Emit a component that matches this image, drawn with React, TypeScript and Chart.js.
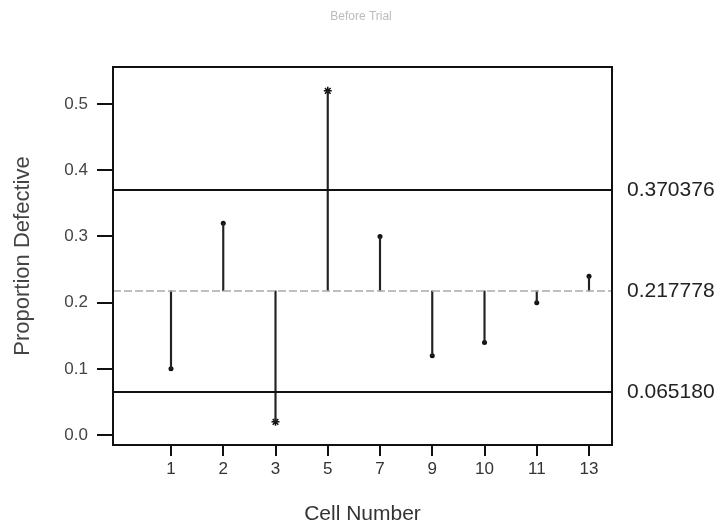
import React, { useEffect, useRef } from "react";
import { Chart, registerables } from "chart.js";

Chart.register(...registerables);

const cellLabels = ["1", "2", "3", "5", "7", "9", "10", "11", "13"];
const proportions = [0.10, 0.32, 0.02, 0.52, 0.30, 0.12, 0.14, 0.20, 0.24];
const outOfControl = [false, false, true, true, false, false, false, false, false];
const centerLine = 0.217778;
const upperLimit = 0.370376;
const lowerLimit = 0.06518;
const yTicks = [0, 0.1, 0.2, 0.3, 0.4, 0.5];
const limitValues = [upperLimit, centerLine, lowerLimit];
const limitLabels = ["0.370376", "0.217778", "0.065180"];

const X_MIN = -1.11;
const X_MAX = 8.44;
const Y_MIN = -0.015;
const Y_MAX = 0.556;

const framePlugin = {
  id: "frame",
  afterDatasetsDraw(chart: any) {
    const { ctx, chartArea } = chart;
    ctx.save();
    ctx.strokeStyle = "#111";
    ctx.lineWidth = 2;
    ctx.strokeRect(chartArea.left, chartArea.top, chartArea.right - chartArea.left, chartArea.bottom - chartArea.top);
    ctx.restore();
  },
};

export default function App() {
  const ref = useRef<HTMLCanvasElement>(null);
  useEffect(() => {
    document.body.style.margin = "0";
    const stems = proportions.map((v, i) => ({ x: i, y: [centerLine, v] }));
    const points = proportions.map((v, i) => ({ x: i, y: v }));
    const hLine = (v: number) => [
      { x: X_MIN, y: v },
      { x: X_MAX, y: v },
    ];
    const font = "'Liberation Sans', Arial, sans-serif";
    const chart = new Chart(ref.current!, {
      type: "bar",
      data: {
        datasets: [
          {
            type: "line",
            data: hLine(upperLimit),
            borderColor: "#111",
            borderWidth: 2,
            pointRadius: 0,
            xAxisID: "x",
            yAxisID: "y",
          } as any,
          {
            type: "line",
            data: hLine(centerLine),
            borderColor: "#aaa",
            borderWidth: 1.5,
            borderDash: [8, 3],
            pointRadius: 0,
            xAxisID: "x",
            yAxisID: "y",
          } as any,
          {
            type: "line",
            data: hLine(lowerLimit),
            borderColor: "#111",
            borderWidth: 2,
            pointRadius: 0,
            xAxisID: "x",
            yAxisID: "y",
          } as any,
          {
            type: "bar",
            data: stems,
            backgroundColor: "#222",
            borderWidth: 0,
            barThickness: 1.5,
            xAxisID: "x",
            yAxisID: "y",
          } as any,
          {
            type: "line",
            data: points,
            showLine: false,
            pointStyle: outOfControl.map((o) => (o ? "star" : "circle")),
            pointRadius: outOfControl.map((o) => (o ? 4 : 2.5)),
            pointBorderWidth: outOfControl.map((o) => (o ? 1.5 : 0)),
            pointBackgroundColor: "#111",
            pointBorderColor: "#111",
            xAxisID: "x",
            yAxisID: "y",
          } as any,
        ],
      },
      options: {
        responsive: false,
        animation: false,
        layout: { padding: 0 },
        plugins: {
          legend: { display: false },
          tooltip: { enabled: false },
          title: {
            display: true,
            text: "Before Trial",
            color: "#bbb",
            font: { family: font, size: 12, weight: "normal" },
            padding: { top: 9, bottom: 43.6 },
          },
        },
        scales: {
          x: {
            type: "linear",
            position: "bottom",
            min: X_MIN,
            max: X_MAX,
            offset: false,
            afterBuildTicks: (s: any) => {
              s.ticks = cellLabels.map((_, i) => ({ value: i }));
            },
            afterFit: (s: any) => {
              s.height = 84;
            },
            ticks: {
              callback: (v: any) => cellLabels[v as number] ?? "",
              color: "#333",
              font: { family: font, size: 17 },
              padding: 3,
              maxRotation: 0,
              autoSkip: false,
            },
            grid: {
              offset: false,
              drawOnChartArea: false,
              tickLength: 11,
              color: "#111",
              lineWidth: 2,
            },
            border: { display: false },
            title: {
              display: true,
              text: "Cell Number",
              color: "#333",
              font: { family: font, size: 21 },
              padding: { top: 0, bottom: 2 },
            },
          },
          y: {
            type: "linear",
            position: "left",
            min: Y_MIN,
            max: Y_MAX,
            afterBuildTicks: (s: any) => {
              s.ticks = yTicks.map((v) => ({ value: v }));
            },
            afterFit: (s: any) => {
              s.width = 113;
            },
            ticks: {
              callback: (v: any) => Number(v).toFixed(1),
              color: "#444",
              font: { family: font, size: 17 },
              padding: 9,
            },
            grid: {
              drawOnChartArea: false,
              tickLength: 16,
              color: "#111",
              lineWidth: 2,
            },
            border: { display: false },
            title: {
              display: true,
              text: "Proportion Defective",
              color: "#444",
              font: { family: font, size: 22 },
              padding: { top: 10, bottom: 0 },
            },
          },
          yRight: {
            type: "linear",
            position: "right",
            min: Y_MIN,
            max: Y_MAX,
            afterBuildTicks: (s: any) => {
              s.ticks = limitValues.map((v) => ({ value: v }));
            },
            afterFit: (s: any) => {
              s.width = 110;
            },
            ticks: {
              callback: (v: any) => {
                const i = limitValues.indexOf(Number(v));
                return i >= 0 ? limitLabels[i] : "";
              },
              color: "#222",
              font: { family: font, size: 21 },
              padding: 15,
            },
            grid: { display: false, drawTicks: false },
            border: { display: false },
          },
        },
      } as any,
      plugins: [framePlugin],
    });
    return () => chart.destroy();
  }, []);
  return (
    <div style={{ width: 722, height: 529 }}>
      <canvas ref={ref} width={722} height={529} />
    </div>
  );
}
